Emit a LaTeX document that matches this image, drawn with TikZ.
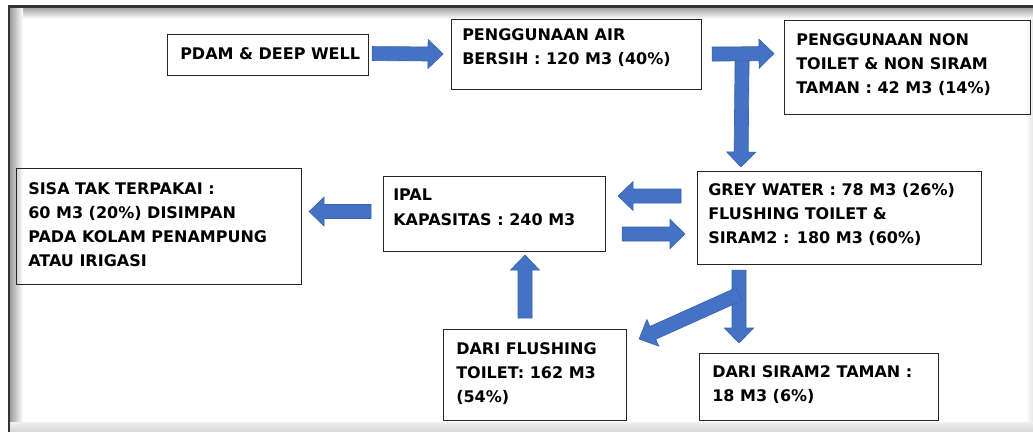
\documentclass[tikz,border=0pt]{standalone}
\usepackage{fontspec}
\setmainfont{DejaVu Sans}
\usetikzlibrary{calc}

\definecolor{flowblue}{HTML}{4472C4}
\definecolor{flowedge}{HTML}{3A64B0}
\definecolor{boxline}{HTML}{262626}

\tikzset{
  box/.style={draw=boxline, line width=0.85pt, inner sep=0pt, anchor=north west},
  txt/.style={anchor=north west, align=left, inner sep=0pt,
    font=\fontsize{12}{18.2}\selectfont\bfseries},
  flowarrow/.style={fill=flowblue, draw=flowedge, line width=0.5pt, line join=miter},
}

% block arrow from #1 to #2: shaft 14px, head 29px wide and 15px long
\newcommand\flowarrow[2]{%
  \path (#1) coordinate (fa-s) (#2) coordinate (fa-e);
  \coordinate (fa-b) at ($(fa-e)!11.25pt!(fa-s)$);
  \filldraw[flowarrow]
    ($(fa-s)!5.25pt!90:(fa-e)$) -- ($(fa-b)!5.25pt!90:(fa-e)$) --
    ($(fa-b)!10.9pt!90:(fa-e)$) -- (fa-e) --
    ($(fa-b)!10.9pt!-90:(fa-e)$) -- ($(fa-b)!5.25pt!-90:(fa-e)$) --
    ($(fa-s)!5.25pt!-90:(fa-e)$) -- cycle;
}

\begin{document}
\begin{tikzpicture}[x=0.75pt, y=-0.75pt]
  \useasboundingbox (0,0) rectangle (1033,432);
  \fill[white] (0,0) rectangle (1033,432);

  % page frame with its inner shadow
  \shade[top color=black!38, bottom color=white] (9,7) rectangle (1033,19);
  \shade[left color=black!38, right color=white] (10,7) rectangle (23,432);
  \shade[left color=white, right color=black!10] (1026,19) rectangle (1033,432);
  \shade[top color=black!6, bottom color=black!16] (10,422) rectangle (1033,432);
  \draw[black!80, line width=1.6pt] (9,432) -- (9,6.5) -- (1033,6.5);

  % boxes
  \node[box, minimum width=201*0.75pt, minimum height=41*0.75pt] (pdam) at (167,34) {};
  \node[box, minimum width=250*0.75pt, minimum height=70*0.75pt] (bersih) at (451,19) {};
  \node[box, minimum width=246*0.75pt, minimum height=94*0.75pt] (nontoilet) at (784,20) {};
  \node[box, minimum width=285*0.75pt, minimum height=116*0.75pt] (sisa) at (16,168) {};
  \node[box, minimum width=222*0.75pt, minimum height=75*0.75pt] (ipal) at (383,176) {};
  \node[box, minimum width=284*0.75pt, minimum height=93*0.75pt] (grey) at (697,171) {};
  \node[box, minimum width=183*0.75pt, minimum height=91*0.75pt] (flush) at (443,329) {};
  \node[box, minimum width=239*0.75pt, minimum height=67*0.75pt] (siram) at (699,353) {};

  % box texts
  \node[txt] (pdam-t) at ($(pdam.north west)+(13,13)$) {PDAM \& DEEP WELL};
  \node[txt] (bersih-t) at ($(bersih.north west)+(11,9)$) {PENGGUNAAN AIR\\BERSIH : 120 M3 (40\%)};
  \node[txt] (nontoilet-t) at ($(nontoilet.north west)+(12,13)$) {PENGGUNAAN NON\\TOILET \& NON SIRAM\\TAMAN : 42 M3 (14\%)};
  \node[txt] (sisa-t) at ($(sisa.north west)+(12,14)$) {SISA TAK TERPAKAI :\\60 M3 (20\%) DISIMPAN\\PADA KOLAM PENAMPUNG\\ATAU IRIGASI};
  \node[txt] (ipal-t) at ($(ipal.north west)+(10,13)$) {IPAL\\KAPASITAS : 240 M3};
  \node[txt] (grey-t) at ($(grey.north west)+(11,12)$) {GREY WATER : 78 M3 (26\%)\\FLUSHING TOILET \&\\SIRAM2 : 180 M3 (60\%)};
  \node[txt] (flush-t) at ($(flush.north west)+(13,13)$) {DARI FLUSHING\\TOILET: 162 M3\\(54\%)};
  \node[txt] (siram-t) at ($(siram.north west)+(13,12)$) {DARI SIRAM2 TAMAN :\\18 M3 (6\%)};

  % flows
  \flowarrow{$(pdam.east)+(3,-1.5)$}{$(bersih.west)+(-8,-0.5)$}
  \flowarrow{$(bersih.east)+(40,-0.5)$}{$(grey.north west)+(44,-4)$}
  \flowarrow{$(bersih.east)+(10,-0.5)$}{$(nontoilet.west)+(-10,-14)$}
  \flowarrow{$(grey.north west)+(-16,25)$}{$(ipal.north east)+(12,20)$}
  \flowarrow{$(ipal.north east)+(16,58)$}{$(grey.north west)+(-12,63)$}
  \flowarrow{$(ipal.west)+(-12,-2.5)$}{$(sisa.east)+(7,-15)$}
  \flowarrow{$(flush.north west)+(82,-11)$}{$(ipal.south west)+(142,3)$}
  \flowarrow{$(grey.south west)+(42,5)$}{$(siram.north west)+(40,-10)$}
  \flowarrow{$(grey.south west)+(42,29)$}{$(flush.north east)+(12,10)$}
\end{tikzpicture}
\end{document}
